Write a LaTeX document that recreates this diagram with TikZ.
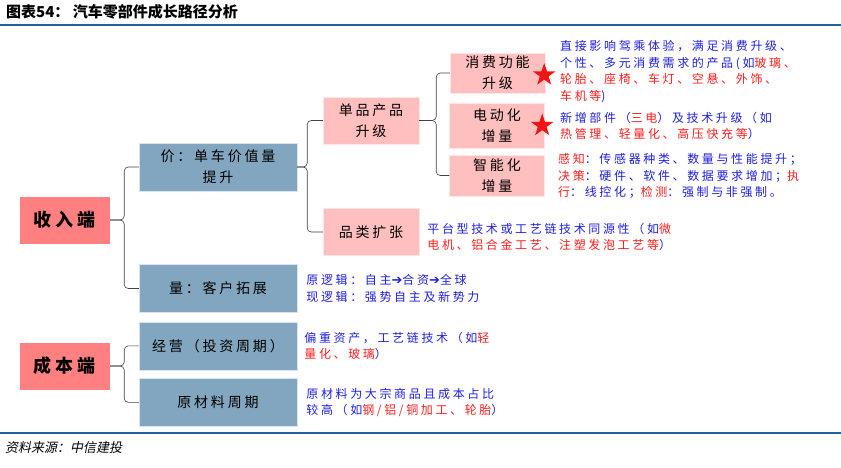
\documentclass[tikz,border=0pt]{standalone}
\usepackage{fontspec}
\usepackage{tikz}
\usetikzlibrary{shapes.geometric,positioning,calc}
\newfontfamily\cjkfont{Noto Sans CJK SC}
\newfontfamily\boxfont[LetterSpace=20]{Noto Sans CJK SC}
\newfontfamily\notefont[LetterSpace=22]{Noto Sans CJK SC}
\newfontfamily\srcfont[FakeSlant=0.2]{Noto Sans CJK SC}
\newfontfamily\arrowfont{DejaVu Sans}
\definecolor{rootred}{RGB}{255,128,128}
\definecolor{steel}{RGB}{130,166,191}
\definecolor{lightpink}{RGB}{255,191,191}
\definecolor{noteblue}{RGB}{30,30,225}
\definecolor{notered}{RGB}{250,30,30}
\definecolor{starred}{RGB}{240,20,20}
\definecolor{rulecol}{RGB}{36,94,160}
\newcommand{\redtxt}[1]{\textcolor{notered}{#1}}
\newcommand{\toarrow}{{\arrowfont\bfseries\fontsize{13}{16.5}\selectfont ➔}}
\tikzset{
	rootbox/.style={rectangle, draw=white, fill=rootred, minimum width=91pt, minimum height=48pt,
		font=\boxfont\bfseries\fontsize{18}{22}\selectfont, inner sep=2pt},
	bluebox/.style={rectangle, draw=white!70!steel, fill=steel, minimum width=158pt, minimum height=48pt,
		align=center, font=\boxfont\fontsize{14}{21}\selectfont, inner sep=2pt},
	pinkbox/.style={rectangle, draw=white!60!lightpink, fill=lightpink, minimum width=96pt, minimum height=47pt,
		align=center, font=\boxfont\fontsize{14}{21}\selectfont, inner sep=2pt},
	smallbox/.style={pinkbox, minimum width=95pt, minimum height=41pt},
	notetxt/.style={anchor=west, inner sep=0pt, align=left, text=noteblue,
		font=\notefont\fontsize{12}{16.5}\selectfont},
	brace/.style={draw=black!75, semithick, rounded corners=4pt},
	redstar/.style={star, star points=5, star point ratio=2.6, fill=starred, draw=none,
		minimum size=24pt, inner sep=0pt}
}
\begin{document}
\begin{tikzpicture}[x=1pt, y=-1pt]
	\useasboundingbox (0,0) rectangle (841,468);
	% title and rules
	\node[anchor=west, inner sep=0pt, font=\cjkfont\bfseries\fontsize{15}{17}\selectfont] (title) at (6,12) {图表54：\ 汽车零部件成长路径分析};
	\draw[rulecol, line width=1.2pt] (0,25) -- (841,25);
	\draw[rulecol, line width=1.2pt] (0,433) -- (841,433);
	\node[anchor=west, inner sep=0pt, font=\srcfont\fontsize{13}{15}\selectfont] (src) at (5,448) {资料来源：中信建投};

	% roots
	\node[rootbox] (shouru) at (64.5,220) {收入端};
	\node[rootbox] (chengben) at (64.5,366) {成本端};

	% second level
	\node[bluebox] (jia) at (218,167) {价：单车价值量\\提升};
	\node[bluebox] (liang) at (218,288.5) {量：客户拓展};
	\node[bluebox, below=9pt of liang] (jingying) {经营（投资周期）};
	\node[bluebox, below=8pt of jingying] (yuancai) {原材料周期};

	% third level
	\node[pinkbox] (danpin) at (371,120.5) {单品产品\\升级};
	\node[pinkbox] (pinlei) at (371,232) {品类扩张};
	\node[smallbox, minimum height=40pt] (xiaofei) at (497.5,73) {消费功能\\升级};
	\node[smallbox, minimum height=45pt] (diandong) at (497,125.5) {电动化\\增量};
	\node[smallbox] (zhineng) at (497,175.5) {智能化\\增量};

	% stars
	\node[redstar] (star1) at ($(xiaofei.east)+(-1,2)$) {};
	\node[redstar] (star2) at ($(diandong.east)+(-2.5,0)$) {};

	% braces
	\draw[brace] (shouru.east) -- ++(14,0) |- (jia.west);
	\draw[brace] (shouru.east) -- ++(14,0) |- (liang.west);
	\draw[brace] (chengben.east) -- ++(14,0) |- (jingying.west);
	\draw[brace] (chengben.east) -- ++(14,0) |- (yuancai.west);
	\draw[brace] (jia.east) -- ++(10,0) |- (danpin.west);
	\draw[brace] (jia.east) -- ++(10,0) |- (pinlei.west);
	\draw[brace] (danpin.east) -- ++(17,0) |- (xiaofei.west);
	\draw[brace] (danpin.east) -- ++(17,0) |- (zhineng.west);

	% notes
	\node[notetxt] (nxiaofei) at (560,71.5) {直接影响驾乘体验，满足消费升级、\\
		个性、多元消费需求的产品(如\redtxt{玻璃、}\\
		\redtxt{轮胎、座椅、车灯、空悬、外饰、}\\
		\redtxt{车机等})};
	\node[notetxt] (ndiandong) at (560,126) {新增部件（\redtxt{三电}）及技术升级（如\\
		\redtxt{热管理、轻量化、高压快充等}）};
	\node[notetxt] (nzhineng) at (558,176) {\redtxt{感知}：传感器种类、数量与性能提升；\\
		\redtxt{决策}：硬件、软件、数据要求增加；\redtxt{执}\\
		\redtxt{行}：线控化；\redtxt{检测}：强制与非强制。};
	\node[notetxt, right=8pt of pinlei, yshift=-5pt] (npinlei) {平台型技术或工艺链技术同源性（如\redtxt{微}\\
		\redtxt{电机、铝合金工艺、注塑发泡工艺等}）};
	\node[notetxt, right=9pt of liang] (nliang) {原逻辑：自主\toarrow 合资\toarrow 全球\\
		现逻辑：强势自主及新势力};
	\node[notetxt, right=7pt of jingying] (njingying) {偏重资产，工艺链技术（如\redtxt{轻}\\
		\redtxt{量化、玻璃}）};
	\node[notetxt, right=9pt of yuancai] (nyuancai) {原材料为大宗商品且成本占比\\
		较高（如\redtxt{钢/铝/铜加工、轮胎}）};
\end{tikzpicture}
\end{document}
